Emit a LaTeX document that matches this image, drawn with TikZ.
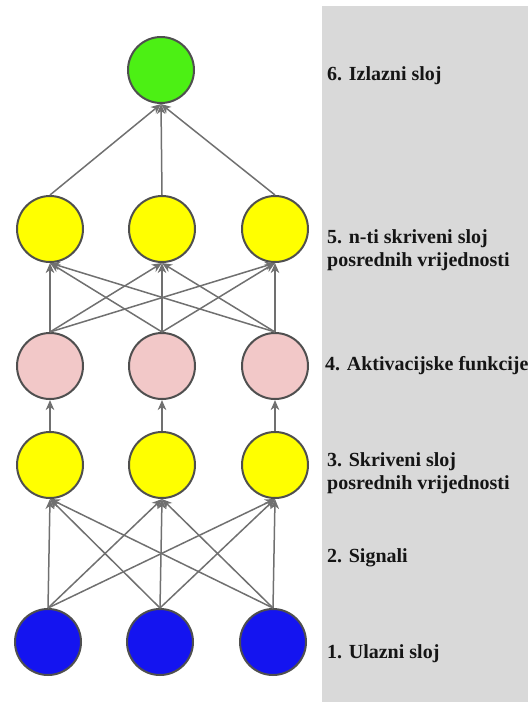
\documentclass[tikz,border=0pt]{standalone}
\usepackage{fontspec}
\setmainfont{Liberation Serif}
\usetikzlibrary{arrows.meta}
\definecolor{nodeedge}{HTML}{4F4F4F}
\definecolor{edgegray}{HTML}{707070}
\definecolor{panelgray}{HTML}{D9D9D9}
\definecolor{outgreen}{HTML}{4CF014}
\definecolor{hidyellow}{HTML}{FFFF00}
\definecolor{actpink}{HTML}{F2C8C8}
\definecolor{inblue}{HTML}{1414F0}
\definecolor{txt}{HTML}{151515}
\begin{document}
\begin{tikzpicture}[x=1pt,y=-1pt,
  neuron/.style={circle,draw=nodeedge,line width=2pt,minimum size=66pt,inner sep=0pt},
  conn/.style={draw=edgegray,line width=1.5pt,-{Stealth[length=10pt,width=8.5pt,inset=3pt]}},
  lbl/.style={anchor=base west,inner sep=0pt,text=txt,font=\bfseries\fontsize{20}{23}\selectfont}]
\useasboundingbox (0,0) rectangle (528,702);
\fill[panelgray] (322,6) rectangle (528,702);
% nodes
\node[neuron,fill=outgreen] (out) at (161,70) {};
\node[neuron,fill=hidyellow] (hB1) at (50,229) {};
\node[neuron,fill=hidyellow] (hB2) at (162,229) {};
\node[neuron,fill=hidyellow] (hB3) at (275,229) {};
\node[neuron,fill=actpink] (act1) at (50,366) {};
\node[neuron,fill=actpink] (act2) at (162,366) {};
\node[neuron,fill=actpink] (act3) at (275,366) {};
\node[neuron,fill=hidyellow] (hA1) at (50,465) {};
\node[neuron,fill=hidyellow] (hA2) at (162,465) {};
\node[neuron,fill=hidyellow] (hA3) at (275,465) {};
\node[neuron,fill=inblue] (in1) at (48,642) {};
\node[neuron,fill=inblue] (in2) at (160,642) {};
\node[neuron,fill=inblue] (in3) at (273,642) {};
% connectors
\foreach \i in {1,2,3}{
  \foreach \j in {1,2,3}{
    \draw[conn] (in\i.north) -- (hA\j.south);
    \draw[conn] (act\i.north) -- (hB\j.south);
  }
  \draw[conn] (hA\i.north) -- (act\i.south);
  \draw[conn] (hB\i.north) -- (out.south);
}
% labels
\node[lbl] (l6) at (327,80) {6. Izlazni sloj};
\node[lbl] (l5a) at (327,243) {5. n-ti skriveni sloj};
\node[lbl] (l5b) at (327,266) {posrednih vrijednosti};
\node[lbl] (l4) at (325,370) {4. Aktivacijske funkcije};
\node[lbl] (l3a) at (327,466) {3. Skriveni sloj};
\node[lbl] (l3b) at (327,489) {posrednih vrijednosti};
\node[lbl] (l2) at (327,562) {2. Signali};
\node[lbl] (l1) at (327,658) {1. Ulazni sloj};
\end{tikzpicture}
\end{document}
